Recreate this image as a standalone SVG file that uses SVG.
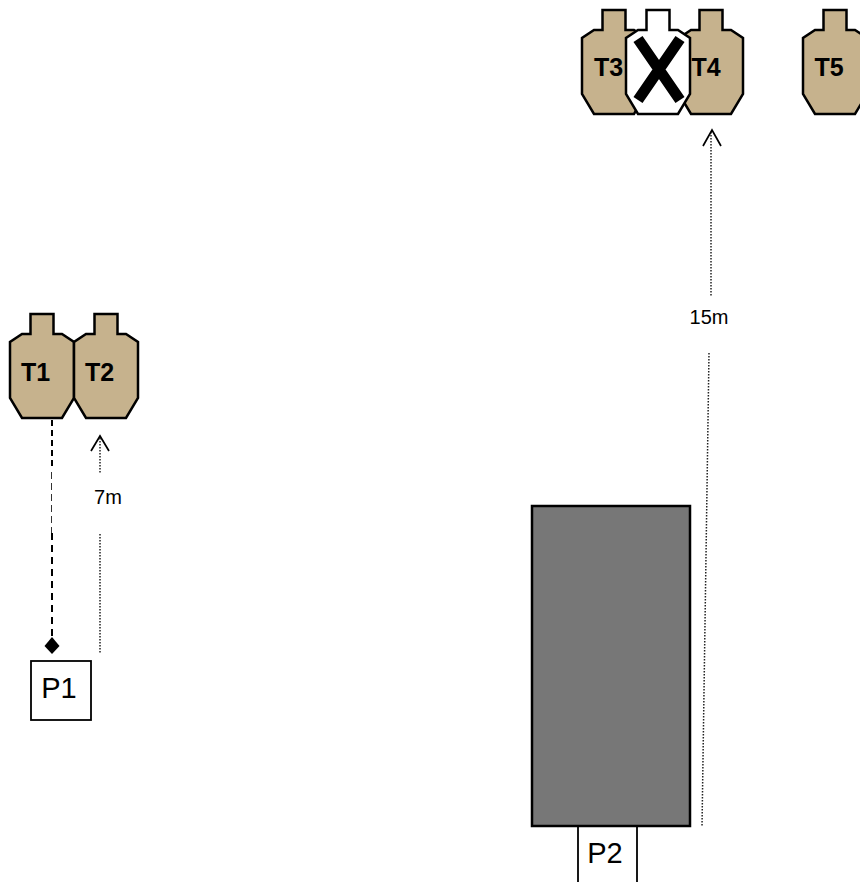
<svg xmlns="http://www.w3.org/2000/svg" width="860" height="882" viewBox="0 0 860 882">
<style>
.t{stroke:#000;stroke-width:2.500;stroke-linejoin:miter}
.tan{fill:#c6b28d}
.w{fill:#fff}
.lb{font:bold 25px "Liberation Sans",Arial,sans-serif;fill:#000;text-anchor:middle}
.p{font:29px "Liberation Sans",Arial,sans-serif;fill:#000;text-anchor:middle}
.d{font:20px "Liberation Sans",Arial,sans-serif;fill:#000;text-anchor:middle}
.dot{fill:none;stroke:#222;stroke-width:1.500;stroke-dasharray:1.500 1.500}
.box{fill:#fff;stroke:#000;stroke-width:1.800}
.ah{fill:none;stroke:#000;stroke-width:1.700}
</style>
<defs>
<path id="tg" d="M20.500,0H43.500V20H52L64,28V84L52,104H12L0,84V28L12,20H20.500Z"/>
</defs>
<g id="P1"><rect class="box" x="31" y="661" width="60" height="59"/><text class="p" x="59" y="698">P1</text></g>
<g id="P2"><path class="box" d="M578,826V882M637,826V882"/><text class="p" x="605" y="863">P2</text></g>
<g id="cover"><rect x="532" y="506" width="158" height="320" fill="#777" stroke="#000" stroke-width="2.500"/></g>
<g id="T1"><use href="#tg" x="10" y="314" class="t tan"/><text class="lb" x="35.500" y="381">T1</text></g>
<g id="T2"><use href="#tg" x="74" y="314" class="t tan"/><text class="lb" x="99.500" y="381">T2</text></g>
<g id="T3"><use href="#tg" x="582" y="10" class="t tan"/><text class="lb" x="608.500" y="76">T3</text></g>
<g id="T4"><use href="#tg" x="679" y="10" class="t tan"/></g>
<g id="NS"><use href="#tg" x="626" y="10" class="t w"/><path d="M638,39L680,100M680,39L638,100" stroke="#000" stroke-width="11" fill="none"/></g>
<text class="lb" x="706" y="76">T4</text>
<g id="T5"><use href="#tg" x="803" y="10" class="t tan"/><text class="lb" x="829" y="76">T5</text></g>
<g id="connectors">
<path d="M52,420V470" fill="none" stroke="#000" stroke-width="2" stroke-dasharray="6 4"/>
<path d="M51.500,472V533" fill="none" stroke="#333" stroke-width="1" stroke-dasharray="7 4"/>
<path d="M52,533V640" fill="none" stroke="#000" stroke-width="2" stroke-dasharray="7 5"/>
<path d="M52,637L59.500,646L52,654L44.500,646Z" fill="#000"/>
<path class="dot" d="M100,438V474M100,534V654"/>
<path class="ah" d="M91,451L100,436L109,451"/>
<path class="dot" d="M711,132V296M709,353L702,827"/>
<path class="ah" d="M703,146L712,130L721,146"/>
</g>
<text class="d" x="108" y="504">7m</text>
<text class="d" x="709" y="324">15m</text>
</svg>
